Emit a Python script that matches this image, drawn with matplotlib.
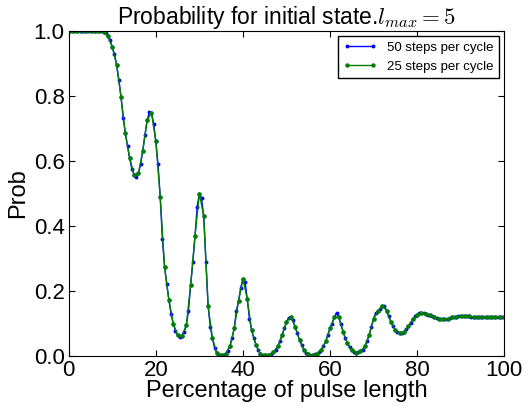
import numpy as np
import matplotlib
matplotlib.use("Agg")
import matplotlib.pyplot as plt
from matplotlib import rc

# pulse percentage, fine grid (50 steps per cycle) every 0.5 %
pulse_pct = np.arange(0, 100.01, 0.5)
prob_50 = [
    1.0, 1.0, 1.0, 1.0, 1.0, 1.0, 1.0, 1.0, 1.0, 1.0,              # 0 - 4.5
    1.0, 1.0, 1.0, 1.0, 1.0, 1.0, 0.998, 0.993, 0.983, 0.972,       # 5 - 9.5
    0.95, 0.928, 0.895, 0.85, 0.797, 0.732, 0.685, 0.645, 0.608, 0.575,   # 10 - 14.5
    0.558, 0.552, 0.562, 0.59, 0.632, 0.68, 0.725, 0.75, 0.748, 0.715,    # 15 - 19.5
    0.66, 0.59, 0.49, 0.36, 0.275, 0.222, 0.172, 0.13, 0.10, 0.078,      # 20 - 24.5
    0.064, 0.058, 0.063, 0.075, 0.095, 0.14, 0.22, 0.29, 0.37, 0.46,     # 25 - 29.5
    0.50, 0.485, 0.43, 0.29, 0.155, 0.09, 0.055, 0.025, 0.01, 0.004,     # 30 - 34.5
    0.003, 0.004, 0.008, 0.015, 0.03, 0.055, 0.085, 0.14, 0.17, 0.21,    # 35 - 39.5
    0.237, 0.228, 0.175, 0.115, 0.08, 0.055, 0.035, 0.018, 0.008, 0.004, # 40 - 44.5
    0.002, 0.002, 0.003, 0.006, 0.012, 0.02, 0.03, 0.045, 0.065, 0.085,  # 45 - 49.5
    0.105, 0.118, 0.121, 0.11, 0.09, 0.07, 0.05, 0.034, 0.02, 0.01,      # 50 - 54.5
    0.005, 0.003, 0.003, 0.005, 0.008, 0.013, 0.02, 0.03, 0.045, 0.065,  # 55 - 59.5
    0.085, 0.10, 0.12, 0.133, 0.12, 0.098, 0.075, 0.055, 0.04, 0.027,    # 60 - 64.5
    0.018, 0.013, 0.011, 0.012, 0.015, 0.02, 0.03, 0.045, 0.065, 0.09,   # 65 - 69.5
    0.115, 0.132, 0.138, 0.145, 0.155, 0.155, 0.14, 0.122, 0.105, 0.092, # 70 - 74.5
    0.08, 0.073, 0.07, 0.071, 0.075, 0.082, 0.092, 0.103, 0.113, 0.122,  # 75 - 79.5
    0.128, 0.132, 0.134, 0.133, 0.131, 0.128, 0.125, 0.122, 0.119, 0.117, # 80 - 84.5
    0.115, 0.114, 0.114, 0.114, 0.115, 0.117, 0.119, 0.12, 0.121, 0.122, # 85 - 89.5
    0.123, 0.123, 0.123, 0.122, 0.122, 0.121, 0.121, 0.12, 0.12, 0.12,   # 90 - 94.5
    0.12, 0.12, 0.12, 0.12, 0.12, 0.12, 0.12, 0.12, 0.12, 0.12,          # 95 - 99.5
    0.12,                                                                # 100
]

# coarse grid (25 steps per cycle), every 1 %
pulse_pct_25 = pulse_pct[::2]
prob_25 = prob_50[::2]

rc('mathtext', fontset='cm')
plt.rcParams['font.family'] = ['Liberation Sans', 'DejaVu Sans']
rc('xtick', direction='in', labelsize=16, top=True)
rc('ytick', direction='in', labelsize=16, right=True)
rc('xtick.major', size=4, pad=3)
rc('ytick.major', size=4, pad=3)

fig = plt.figure(figsize=(5.29, 4.07), dpi=100)
ax = fig.add_axes([0.130, 0.125, 0.823, 0.799])

ax.plot(pulse_pct, prob_50, color='blue', marker='o', markersize=2.8,
        markeredgewidth=0, linewidth=1.0, label='50 steps per cycle')
ax.plot(pulse_pct_25, prob_25, color='green', marker='o', markersize=3.2,
        markeredgewidth=0, linewidth=1.0, label='25 steps per cycle')

ax.set_xlim(0, 100)
ax.set_ylim(0, 1.0)
ax.set_xticks([0, 20, 40, 60, 80, 100])
ax.set_yticks([0.0, 0.2, 0.4, 0.6, 0.8, 1.0])
ax.set_xlabel('Percentage of pulse length', fontsize=17, labelpad=-1)
ax.set_ylabel('Prob', fontsize=17, labelpad=3)
ax.set_title('Probability for initial state.$l_{max}=5$', fontsize=16.5, pad=1)

leg = ax.legend(loc='upper right', fontsize=9.5, numpoints=2, fancybox=False,
                framealpha=1, edgecolor='black', borderaxespad=0.4,
                handlelength=2.5)
leg.get_frame().set_linewidth(1.0)

fig.savefig('out.png', dpi=100)
